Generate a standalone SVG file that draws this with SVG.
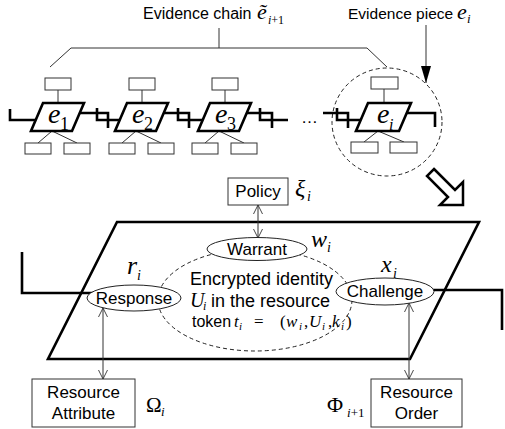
<svg xmlns="http://www.w3.org/2000/svg" width="505" height="429" viewBox="0 0 505 429">
<style>
.thin{fill:none;stroke:#333;stroke-width:1}
.thick{fill:none;stroke:#000;stroke-width:2.6}
.box{fill:#fff;stroke:#333;stroke-width:1}
.para{fill:#fff;stroke:#000;stroke-width:2.6;stroke-linejoin:miter}
.ell{fill:#fff;stroke:#222;stroke-width:1}
.dash{fill:none;stroke:#222;stroke-width:1;stroke-dasharray:4 3}
.t{font-family:"Liberation Sans",Arial,sans-serif;font-size:17px;fill:#000}
.m{font-family:"Liberation Serif","Times New Roman",serif;font-style:italic;fill:#000}
.mu{font-family:"Liberation Serif","Times New Roman",serif;fill:#000}
</style>
<defs>
<marker id="oa" viewBox="0 0 10 10" refX="10" refY="5" markerWidth="9" markerHeight="10" markerUnits="userSpaceOnUse" orient="auto-start-reverse"><path d="M0,0 L10,5 L0,10" fill="none" stroke="#333" stroke-width="1"/></marker>
<marker id="tri" viewBox="0 0 17 10" refX="17" refY="5" markerWidth="17" markerHeight="10" markerUnits="userSpaceOnUse" orient="auto"><path d="M0,0 L17,5 L0,10 Z" fill="#000"/></marker>
</defs>
<rect width="505" height="429" fill="#fff"/>

<!-- main plane -->
<g id="plane">
<path class="para" d="M117,222 H479 L410,359 H48 Z"/>
<ellipse class="dash" cx="255" cy="300" rx="97" ry="51"/>
</g>

<g id="connectors">
<path class="thin" d="M50,67 L71,48 H367 L387,67 M219,28 V48"/>
<path class="thin" d="M426,25 V83" marker-end="url(#tri)"/>
<path class="thick" d="M10,109 V120 H36"/>
<path class="thick" d="M80,113 H108 V128 M97,108 V120 H119"/>
<path class="thick" d="M164,113 H189 V128 M178,108 V120 H203"/>
<path class="thick" d="M247,113 H272 V128 M260,108 V120 H288"/>
<path class="thick" d="M323,113 H348 V128 M337,108 V120 H361"/>
<path class="thick" d="M406,113 H435 V127"/>
<path class="thick" d="M22,252 V293 H100"/>
<path class="thick" d="M420,290 H502 V330"/>
<path class="thin" d="M258,205 V238" marker-start="url(#oa)" marker-end="url(#oa)"/>
<path class="thin" d="M103,308 V379" marker-start="url(#oa)" marker-end="url(#oa)"/>
<path class="thin" d="M409,303 V379" marker-start="url(#oa)" marker-end="url(#oa)"/>
<polygon points="434,169 455,190 463,182 463,205 440,205 448,197 427,176" fill="#fff" stroke="#000" stroke-width="2.5" stroke-linejoin="miter"/>
</g>

<text class="t" x="143" y="19" style="font-size:16px">Evidence chain</text>
<text class="m" x="257" y="19" font-size="22">ẽ</text>
<text class="m" x="268" y="24" font-size="12">i<tspan class="mu" font-style="normal">+1</tspan></text>
<text class="t" x="348" y="19" style="font-size:15.5px">Evidence piece</text>
<text class="m" x="457" y="19" font-size="22">e</text>
<text class="m" x="467" y="23" font-size="13">i</text>
<text class="t" x="301" y="123">…</text>

<g id="e1">
<rect class="box" x="45" y="78" width="26" height="12"/>
<path class="thin" d="M58,90 V103 M52,131 L38,143 M52,131 L77,143"/>
<rect class="box" x="25" y="143" width="26" height="11"/>
<rect class="box" x="64" y="143" width="26" height="11"/>
<path class="para" d="M43,103 H84 L72,131 H31 Z"/>
<text class="m" x="48" y="123" font-size="28">e</text>
<text class="mu" x="60" y="130" font-size="18">1</text>
</g>
<g id="e2">
<rect class="box" x="129" y="78" width="26" height="12"/>
<path class="thin" d="M142,90 V103 M136,131 L122,143 M136,131 L161,143"/>
<rect class="box" x="109" y="143" width="26" height="11"/>
<rect class="box" x="148" y="143" width="26" height="11"/>
<path class="para" d="M127,103 H168 L156,131 H115 Z"/>
<text class="m" x="132" y="123" font-size="28">e</text>
<text class="mu" x="144" y="130" font-size="18">2</text>
</g>
<g id="e3">
<rect class="box" x="212" y="78" width="26" height="12"/>
<path class="thin" d="M225,90 V103 M219,131 L205,143 M219,131 L244,143"/>
<rect class="box" x="192" y="143" width="26" height="11"/>
<rect class="box" x="231" y="143" width="26" height="11"/>
<path class="para" d="M210,103 H251 L239,131 H198 Z"/>
<text class="m" x="215" y="123" font-size="28">e</text>
<text class="mu" x="227" y="130" font-size="18">3</text>
</g>
<g id="ei">
<ellipse class="dash" cx="387" cy="122" rx="55" ry="54"/>
<rect class="box" x="371" y="77" width="27" height="12"/>
<path class="thin" d="M384,89 V103 M378,131 L364,142 M378,131 L404,142"/>
<rect class="box" x="351" y="142" width="27" height="11"/>
<rect class="box" x="390" y="142" width="27" height="11"/>
<path class="para" d="M368,103 H411 L399,131 H356 Z"/>
<text class="m" x="377" y="123" font-size="28">e</text>
<text class="m" x="389" y="130" font-size="16">i</text>
</g>

<g id="policy">
<rect class="box" x="228" y="178" width="60" height="27"/>
<text class="t" x="258" y="197" text-anchor="middle">Policy</text>
<text class="m" x="295" y="196" font-size="24">ξ</text>
<text class="m" x="307" y="201" font-size="14">i</text>
</g>
<g id="warrant">
<ellipse class="ell" cx="257" cy="249" rx="50" ry="11.5"/>
<text class="t" x="257" y="255" text-anchor="middle">Warrant</text>
<text class="m" x="311" y="247" font-size="24">w</text>
<text class="m" x="327" y="252" font-size="14">i</text>
</g>
<g id="response">
<ellipse class="ell" cx="134" cy="298" rx="47" ry="13"/>
<text class="t" x="134" y="304" text-anchor="middle">Response</text>
<text class="m" x="127" y="274" font-size="26">r</text>
<text class="m" x="137" y="280" font-size="14">i</text>
</g>
<g id="challenge">
<ellipse class="ell" cx="385" cy="291.5" rx="49" ry="13.5"/>
<text class="t" x="385" y="297" text-anchor="middle">Challenge</text>
<text class="m" x="381" y="272" font-size="24">x</text>
<text class="m" x="393" y="278" font-size="14">i</text>
</g>
<g id="token">
<text class="t" x="190" y="285" style="font-size:18px">Encrypted identity</text>
<text class="m" x="190" y="307" font-size="20">U</text>
<text class="m" x="203" y="310" font-size="12">i</text>
<text class="t" x="211" y="307" style="font-size:18px">in the resource</text>
<text class="t" x="192" y="327" style="font-size:16px">token</text>
<text class="m" font-size="17" y="327"><tspan x="234">t</tspan><tspan x="239" y="330" font-size="11">i</tspan><tspan class="mu" font-style="normal" x="254" y="327">=</tspan><tspan class="mu" font-style="normal" x="280">(</tspan><tspan x="286">w</tspan><tspan x="299" y="330" font-size="11">i</tspan><tspan class="mu" font-style="normal" x="304" y="327">,</tspan><tspan x="309">U</tspan><tspan x="322" y="330" font-size="11">i</tspan><tspan class="mu" font-style="normal" x="328" y="327">,</tspan><tspan x="332">k</tspan><tspan x="341" y="330" font-size="11">i</tspan><tspan class="mu" font-style="normal" x="346" y="327">)</tspan></text>
</g>
<g id="resattr">
<rect class="box" x="32" y="379" width="103" height="48"/>
<text class="t" x="83.5" y="398" text-anchor="middle">Resource</text>
<text class="t" x="83.5" y="419" text-anchor="middle">Attribute</text>
<text class="mu" x="146" y="412" font-size="21">Ω</text>
<text class="m" x="161" y="416" font-size="13">i</text>
</g>
<g id="resorder">
<rect class="box" x="371" y="379" width="91" height="48"/>
<text class="t" x="416.5" y="398" text-anchor="middle">Resource</text>
<text class="t" x="416.5" y="419" text-anchor="middle">Order</text>
<text class="mu" x="327" y="412" font-size="22">Φ</text>
<text class="m" x="347" y="417" font-size="13">i<tspan class="mu" font-style="normal">+1</tspan></text>
</g>
</svg>
